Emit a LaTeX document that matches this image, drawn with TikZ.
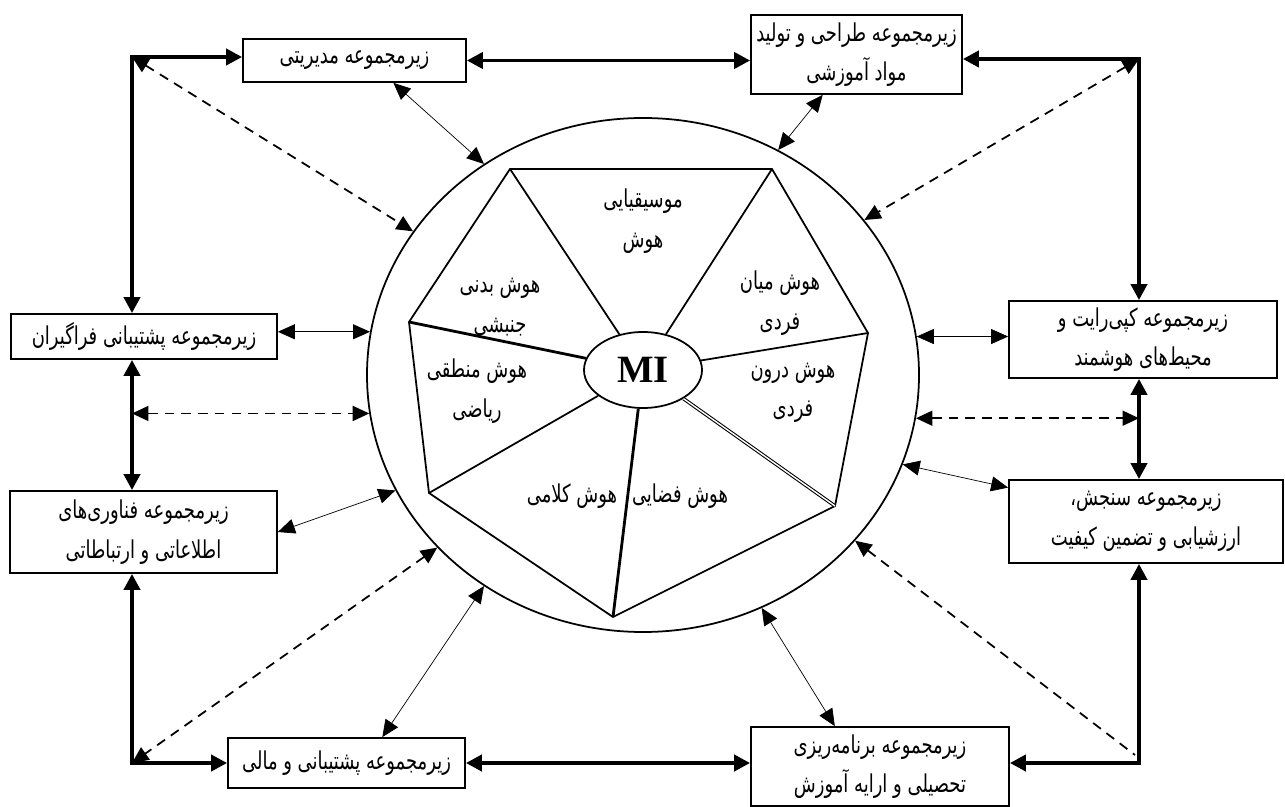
\documentclass[tikz,border=0pt]{standalone}
\usepackage{fontspec}
\newfontfamily\arabicfont[Script=Arabic,FakeStretch=0.73]{DejaVu Sans}
\newfontfamily\timesfont{Liberation Serif}
\TeXXeTstate=1
\usetikzlibrary{arrows.meta,calc,shapes.geometric}
\newcommand{\fatxt}[1]{\beginR #1\endR}
\newcommand{\pxu}{0.02cm}
\begin{document}
\begin{tikzpicture}[x=0.02cm,y=-0.02cm,
  box/.style={draw,line width=1pt,inner sep=0pt,align=center,font=\arabicfont\fontsize{14}{22.5}\selectfont},
  lab/.style={inner sep=0pt,align=center,font=\arabicfont\fontsize{14}{22.5}\selectfont},
  thickarr/.style={line width=2.2pt,{Triangle[length=3.2mm,width=3.2mm]}-{Triangle[length=3.2mm,width=3.2mm]}},
  thinarr/.style={line width=0.4pt,{Triangle[length=3.4mm,width=3mm]}-{Triangle[length=3.4mm,width=3mm]}},
  dasharr/.style={line width=1pt,dash pattern=on 5.5pt off 4pt,{Triangle[length=3.3mm,width=3mm]}-{Triangle[length=3.3mm,width=3mm]}},
  dashone/.style={line width=1pt,dash pattern=on 5.5pt off 4pt,{Triangle[length=3.3mm,width=3mm]}-},
  poly/.style={line width=1pt,line join=miter}]
\useasboundingbox (0,0) rectangle (1285,807);

% big circle
\node[draw,ellipse,line width=1pt,minimum width=552*\pxu,minimum height=514*\pxu,inner sep=0pt] (C) at (643,375) {};

% heptagon vertices
\coordinate (A) at (510,169);
\coordinate (B) at (772,169);
\coordinate (Cv) at (868,333);
\coordinate (D) at (835,506);
\coordinate (E) at (613,617);
\coordinate (F) at (429,493);
\coordinate (G) at (409,322);
\draw[poly] (A) -- (B) -- (Cv) -- (D) -- (E) -- (F) -- (G) -- cycle;

% MI
\node[draw,ellipse,fill=white,line width=1pt,minimum width=118*\pxu,minimum height=76*\pxu,inner sep=0pt,font=\timesfont\bfseries\fontsize{22}{24}\selectfont] (MI) at (643,370) {MI};
\draw[poly] (MI) -- (A);
\draw[poly] (MI) -- (B);
\draw[poly] (MI) -- (Cv);
\draw[line width=0.6pt,double,double distance=0.8pt] (MI) -- (D);
\draw[line width=1.6pt] (MI) -- (E);
\draw[poly] (MI) -- (F);
\draw[line width=1.6pt] (MI) -- (G);

% intelligence labels
\node[lab] (mus) at (643,221) {\fatxt{موسیقیایی}\\\fatxt{هوش}};
\node[lab] (bod) at (500,307) {\fatxt{هوش بدنی}\\\fatxt{جنبشی}};
\node[lab] (inter) at (780,303) {\fatxt{هوش میان}\\\fatxt{فردی}};
\node[lab] (logi) at (477,391) {\fatxt{هوش منطقی}\\\fatxt{ریاضی}};
\node[lab] (intra) at (793,393) {\fatxt{هوش درون}\\\fatxt{فردی}};
\node[lab] (verb) at (572,496) {\fatxt{هوش کلامی}};
\node[lab] (spat) at (680,496) {\fatxt{هوش فضایی}};

% boxes
\node[box,minimum width=223*\pxu,minimum height=43*\pxu] (mgmt) at (354.5,60.5) {\fatxt{زیرمجموعه مدیریتی}};
\node[box,minimum width=211*\pxu,minimum height=79*\pxu] (design) at (856.5,54.5) {\fatxt{زیرمجموعه طراحی و تولید}\\\fatxt{مواد آموزشی}};
\node[box,minimum width=266*\pxu,minimum height=45*\pxu] (learner) at (144,336.5) {\fatxt{زیرمجموعه پشتیبانی فراگیران}};
\node[box,minimum width=267*\pxu,minimum height=82*\pxu] (ict) at (143.5,532) {\fatxt{زیرمجموعه فناوری‌های}\\\fatxt{اطلاعاتی و ارتباطاتی}};
\node[box,minimum width=268*\pxu,minimum height=77*\pxu] (copyright) at (1143,339.5) {\fatxt{زیرمجموعه کپی‌رایت و}\\\fatxt{محیط‌های هوشمند}};
\node[box,minimum width=274*\pxu,minimum height=83*\pxu] (assess) at (1146,521.5) {\fatxt{زیرمجموعه سنجش،}\\\fatxt{ارزشیابی و تضمین کیفیت}};
\node[box,minimum width=237*\pxu,minimum height=50*\pxu] (finance) at (346.5,763) {\fatxt{زیرمجموعه پشتیبانی و مالی}};
\node[box,minimum width=258*\pxu,minimum height=79*\pxu] (planning) at (880,766.5) {\fatxt{زیرمجموعه برنامه‌ریزی}\\\fatxt{تحصیلی و ارایه آموزش}};

% corner coordinates
\coordinate (cTL) at (132,57);
\coordinate (cTR) at (1139,59);
\coordinate (cBL) at (132,763);
\coordinate (cBR) at (1139,763);
\coordinate (cBRd) at (1135,755);

% thick connectors
\draw[thickarr] (mgmt.west |- cTL) -- (cTL) -- (learner.north -| cTL);
\draw[thickarr] (mgmt.east) -- (mgmt.east -| design.west);
\draw[thickarr] (design.east |- cTR) -- (cTR) -- (copyright.north -| cTR);
\draw[thickarr] (learner.south -| cTL) -- (ict.north -| cTL);
\draw[thickarr] (ict.south -| cBL) -- (cBL) -- (finance.west |- cBL);
\draw[thickarr] (finance.east |- cBL) -- (planning.west |- cBL);
\draw[thickarr] (copyright.south -| cTR) -- (assess.north -| cTR);
\draw[thickarr] (assess.south -| cBR) -- (cBR) -- (planning.east |- cBR);

% dashed connectors
\draw[dasharr] (cTL) -- (C.148);
\draw[dasharr] (cTR) -- (C.35.9);
\draw[dasharr] (cTL |- C.188.2) -- (C.188.2);
\draw[dasharr] (C.351.7) -- (cTR |- C.351.7);
\draw[dasharr] (C.220) -- (cBL);
\draw[dashone] (C.322.2) -- (cBRd);

% thin connectors
\draw[thinarr] ($(mgmt.south west)!0.673!(mgmt.south east)$) -- (C.127.7);
\draw[thinarr] ($(design.south west)!0.341!(design.south east)$) -- (C.59.1);
\draw[thinarr] (learner.east |- C.171.1) -- (C.171.1);
\draw[thinarr] (C.8.9) -- (copyright.west |- C.8.9);
\draw[thinarr] (ict.east) -- (C.205);
\draw[thinarr] (C.341.1) -- ($(assess.north west)!0.1!(assess.south west)$);
\draw[thinarr] ($(finance.north west)!0.65!(finance.north east)$) -- (C.233);
\draw[thinarr] (C.297.5) -- ($(planning.north west)!0.326!(planning.north east)$);
\end{tikzpicture}
\end{document}
